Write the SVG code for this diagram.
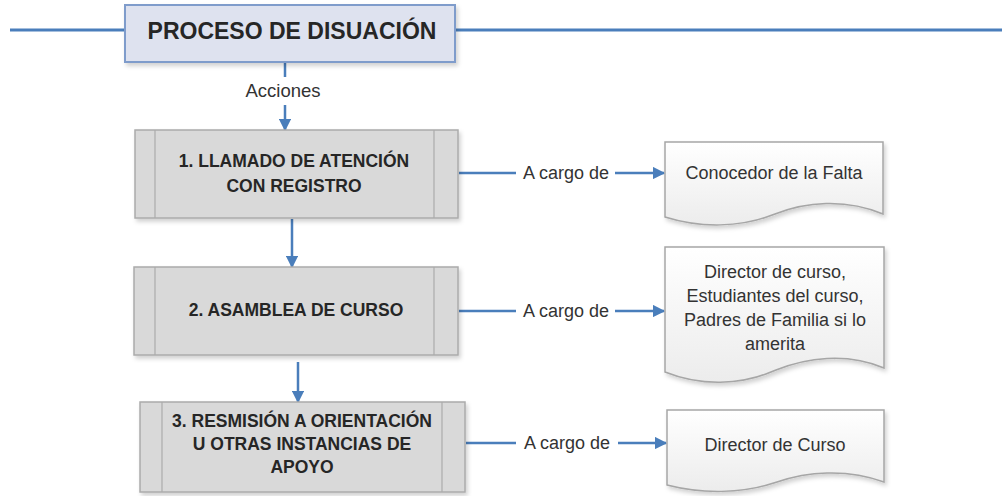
<svg xmlns="http://www.w3.org/2000/svg" width="1005" height="496" viewBox="0 0 1005 496">
<style>
.conn{stroke:#4a7ebb;stroke-width:2.5;fill:none}
.box{fill:#d9d9d9;stroke:#ababab;stroke-width:1.5}
.inner{stroke:#ababab;stroke-width:1.2}
.doc{fill:url(#docg);stroke:#a6a6a6;stroke-width:1.5}
.bt{font-family:"Liberation Sans",Arial,sans-serif;font-weight:bold;font-size:17.5px;fill:#262626;text-anchor:middle}
.lt{font-family:"Liberation Sans",Arial,sans-serif;font-size:18.5px;fill:#333;text-anchor:middle}
.dt{font-family:"Liberation Sans",Arial,sans-serif;font-size:18px;fill:#333;text-anchor:middle}
</style>
<defs>
<marker id="arr" viewBox="0 0 10 10" refX="9" refY="5" markerWidth="5" markerHeight="5" orient="auto" markerUnits="strokeWidth">
<path d="M0,0 L10,5 L0,10 Z" fill="#4a7ebb"/>
</marker>
<linearGradient id="docg" x1="0" y1="0" x2="0" y2="1">
<stop offset="0" stop-color="#ffffff"/>
<stop offset="1" stop-color="#ececec"/>
</linearGradient>
<filter id="sh" x="-10%" y="-10%" width="125%" height="130%">
<feDropShadow dx="2" dy="3" stdDeviation="2" flood-color="#000" flood-opacity="0.18"/>
</filter>
</defs>
<rect width="1005" height="496" fill="#ffffff"/>
<g id="connectors">
<line class="conn" x1="10" y1="30" x2="125" y2="30" style="stroke-width:3"/>
<line class="conn" x1="455" y1="30" x2="1002" y2="30" style="stroke-width:3"/>
<line class="conn" x1="285" y1="62" x2="285" y2="77"/>
<line class="conn" x1="285" y1="105" x2="285" y2="130" marker-end="url(#arr)"/>
<line class="conn" x1="292" y1="219" x2="292" y2="267" marker-end="url(#arr)"/>
<line class="conn" x1="298" y1="362" x2="298" y2="402" marker-end="url(#arr)"/>
<line class="conn" x1="459" y1="173" x2="516" y2="173"/>
<line class="conn" x1="615" y1="173" x2="664" y2="173" marker-end="url(#arr)"/>
<line class="conn" x1="459" y1="311" x2="516" y2="311"/>
<line class="conn" x1="615" y1="311" x2="664" y2="311" marker-end="url(#arr)"/>
<line class="conn" x1="466" y1="443" x2="516" y2="443"/>
<line class="conn" x1="618" y1="443" x2="666" y2="443" marker-end="url(#arr)"/>
<text class="lt" x="283" y="97">Acciones</text>
<text class="dt" x="566" y="179">A cargo de</text>
<text class="dt" x="566" y="317">A cargo de</text>
<text class="dt" x="567" y="449">A cargo de</text>
</g>
<g id="title">
<rect x="125" y="5" width="330" height="57" fill="#dee2ef" stroke="#7f9ccb" stroke-width="2" filter="url(#sh)"/>
<text x="292" y="39" style="font-family:'Liberation Sans',Arial,sans-serif;font-weight:bold;font-size:23px;fill:#262626;text-anchor:middle">PROCESO DE DISUACIÓN</text>
</g>
<g id="step1">
<rect class="box" x="135" y="130" width="323" height="88" filter="url(#sh)"/>
<line class="inner" x1="155" y1="130" x2="155" y2="218"/>
<line class="inner" x1="434" y1="130" x2="434" y2="218"/>
<text class="bt" x="294" y="167">1. LLAMADO DE ATENCIÓN</text>
<text class="bt" x="294" y="192">CON REGISTRO</text>
</g>
<g id="step2">
<rect class="box" x="134" y="267" width="324" height="88" filter="url(#sh)"/>
<line class="inner" x1="155" y1="267" x2="155" y2="355"/>
<line class="inner" x1="434" y1="267" x2="434" y2="355"/>
<text class="bt" x="296" y="316">2. ASAMBLEA DE CURSO</text>
</g>
<g id="step3">
<rect class="box" x="140" y="402" width="325" height="90" filter="url(#sh)"/>
<line class="inner" x1="162" y1="402" x2="162" y2="492"/>
<line class="inner" x1="442" y1="402" x2="442" y2="492"/>
<text class="bt" x="302" y="427">3. RESMISIÓN A ORIENTACIÓN</text>
<text class="bt" x="302" y="450">U OTRAS INSTANCIAS DE</text>
<text class="bt" x="302" y="473">APOYO</text>
</g>
<g id="doc1">
<path class="doc" filter="url(#sh)" d="M665,142 H883 V214 C845,198 805,202 775,214 C740,228 700,228 665,217 Z"/>
<text class="dt" x="774" y="179">Conocedor de la Falta</text>
</g>
<g id="doc2">
<path class="doc" filter="url(#sh)" d="M665,247 H884 V368 C846,352 806,358 776,370 C740,386 700,386 665,372 Z"/>
<text class="dt" x="775" y="278">Director de curso,</text>
<text class="dt" x="775" y="302">Estudiantes del curso,</text>
<text class="dt" x="775" y="326">Padres de Familia si lo</text>
<text class="dt" x="775" y="350">amerita</text>
</g>
<g id="doc3">
<path class="doc" filter="url(#sh)" d="M667,410 H884 V482 C846,468 806,472 777,482 C742,494 702,494 667,485 Z"/>
<text class="dt" x="775" y="451">Director de Curso</text>
</g>
</svg>
